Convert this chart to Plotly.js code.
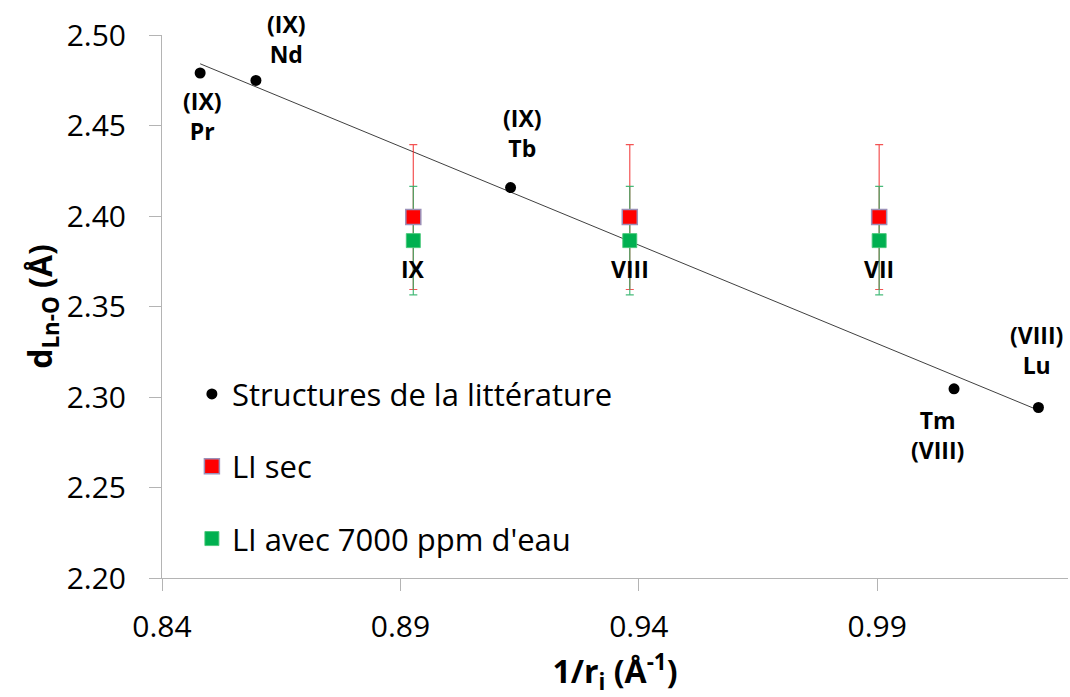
<!DOCTYPE html>
<html>
<head>
<meta charset="utf-8">
<script src="https://cdn.plot.ly/plotly-3.0.1.min.js"></script>
<style>
  html, body { margin: 0; padding: 0; background: #ffffff; }
  #chart { width: 1070px; height: 697px; }
</style>
</head>
<body>
<div id="chart"></div>
<script>
// Literature structures (1/r_i, d_Ln-O)
const litX = [0.848, 0.8597, 0.9131, 1.0061, 1.0238];
const litY = [2.479, 2.4749, 2.4157, 2.3045, 2.2942];
const litLabels = ["(IX)<br>Pr", "(IX)<br>Nd", "(IX)<br>Tb", "Tm<br>(VIII)", "(VIII)<br>Lu"];

// Trend line endpoints
const trendX = [0.848, 1.0238];
const trendY = [2.4841, 2.2927];

// Ionic liquid measurements
const liX = [0.8927, 0.9381, 0.9904];
const liLabels = ["IX", "VIII", "VII"];
const secY = [2.3994, 2.3994, 2.3994];
const secErr = [0.04, 0.04, 0.04];
const eauY = [2.3864, 2.3864, 2.3864];
const eauErr = [0.03, 0.03, 0.03];

// Axis ticks
const xTicks = [0.84, 0.89, 0.94, 0.99];
const yTicks = [2.20, 2.25, 2.30, 2.35, 2.40, 2.45, 2.50];

const FONT = "'Open Sans', Lato, sans-serif";
const AXIS_GRAY = "#b4b4b4";

const traces = [
  {
    x: trendX, y: trendY, mode: "lines", type: "scatter",
    line: { color: "#404040", width: 1 },
    showlegend: false, hoverinfo: "skip"
  },
  {
    x: liX, y: secY, mode: "markers", type: "scatter",
    marker: { size: 1, opacity: 0, color: "#ff0000" },
    error_y: { type: "data", array: secErr, visible: true, color: "rgba(240,40,40,0.8)", thickness: 1.2, width: 4 },
    showlegend: false, hoverinfo: "skip"
  },
  {
    x: litX, y: litY, mode: "markers", type: "scatter",
    name: "Structures de la littérature", legendgroup: "a", legendrank: 1,
    marker: { symbol: "circle", size: 11, color: "#000000" }
  },
  {
    x: liX, y: eauY, mode: "markers", type: "scatter",
    name: "LI avec 7000 ppm d'eau", legendgroup: "c", legendrank: 3,
    marker: { symbol: "square", size: 14, color: "#00b050", line: { color: "rgba(70,200,120,0.9)", width: 1 } },
    error_y: { type: "data", array: eauErr, visible: true, color: "rgba(40,175,100,0.85)", thickness: 1.2, width: 4 }
  },
  {
    x: liX, y: secY, mode: "markers", type: "scatter",
    name: "LI sec", legendgroup: "b", legendrank: 2,
    marker: { symbol: "square", size: 15, color: "#ff0000", line: { color: "#9b90b8", width: 1.5 } }
  }
];

const annFont = { family: FONT, size: 23, color: "#000000", weight: 700 };
const litShift = [
  { xs: 2, ys: -10, ya: "top" },
  { xs: 31, ys: 8, ya: "bottom" },
  { xs: 12, ys: 22, ya: "bottom" },
  { xs: -17, ys: -13, ya: "top" },
  { xs: -2, ys: 25, ya: "bottom" }
];
const annotations = [];
litX.forEach((xv, i) => {
  annotations.push({
    x: xv, y: litY[i], xref: "x", yref: "y",
    text: "<b>" + litLabels[i].split("<br>").join("</b><br><b>") + "</b>",
    showarrow: false, xanchor: "center", yanchor: litShift[i].ya,
    xshift: litShift[i].xs, yshift: litShift[i].ys,
    font: annFont
  });
});
liX.forEach((xv, i) => {
  annotations.push({
    x: xv, y: eauY[i], xref: "x", yref: "y",
    text: "<b>" + liLabels[i] + "</b>",
    showarrow: false, xanchor: "center", yanchor: "top",
    yshift: -10, font: annFont
  });
});

const layout = {
  width: 1070, height: 697,
  margin: { l: 162, r: 2, t: 35, b: 119, pad: 0 },
  paper_bgcolor: "#ffffff", plot_bgcolor: "#ffffff",
  font: { family: FONT, color: "#000000" },
  showlegend: true,
  legend: {
    x: 0.033, y: 0.388, xanchor: "left", yanchor: "top",
    traceorder: "grouped", tracegroupgap: 29,
    font: { family: FONT, size: 31, color: "#000000" },
    bgcolor: "rgba(0,0,0,0)", itemsizing: "trace"
  },
  xaxis: {
    range: [0.84, 1.03],
    tickvals: xTicks, ticktext: xTicks.map(v => v.toFixed(2)),
    showgrid: false, zeroline: false,
    showline: true, linecolor: AXIS_GRAY, linewidth: 1,
    ticks: "outside", ticklen: 12, tickcolor: AXIS_GRAY, tickwidth: 1,
    ticklabelstandoff: 10,
    tickfont: { family: FONT, size: 30, color: "#000000" },
    title: { text: "<b>1/r<sub>i</sub> (Å<sup>-1</sup>)</b>", font: { family: FONT, size: 32, color: "#000000" }, standoff: 16 }
  },
  yaxis: {
    range: [2.20, 2.50],
    tickvals: yTicks, ticktext: yTicks.map(v => v.toFixed(2)),
    showgrid: false, zeroline: false,
    showline: true, linecolor: AXIS_GRAY, linewidth: 1,
    ticks: "outside", ticklen: 12, tickcolor: AXIS_GRAY, tickwidth: 1,
    ticklabelstandoff: 17,
    tickfont: { family: FONT, size: 30, color: "#000000" },
    title: { text: "<b>d<sub>Ln-O</sub> (Å)</b>", font: { family: FONT, size: 32, color: "#000000" }, standoff: 4 }
  },
  annotations: annotations
};

Plotly.newPlot("chart", traces, layout, { displayModeBar: false, staticPlot: true });
</script>
</body>
</html>
